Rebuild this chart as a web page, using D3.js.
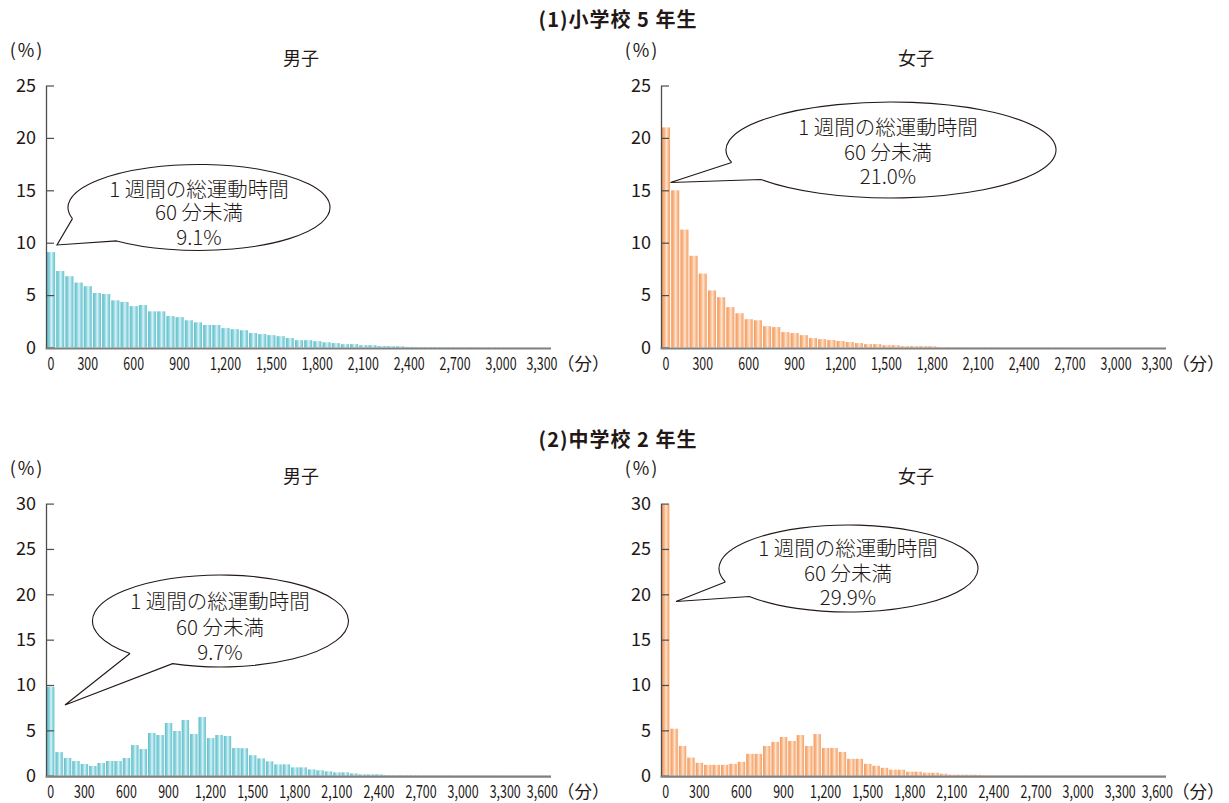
<!DOCTYPE html>
<html>
<head>
<meta charset="utf-8">
<script src="https://cdn.jsdelivr.net/npm/d3@7"></script>
<style>
  body { margin: 0; background: #fff; }
  svg text { font-family: "Noto Sans CJK JP", "Noto Sans", sans-serif; fill: #231815; }
</style>
</head>
<body>
<div id="chart"></div>
<script>
// share of pupils (%) per 60-minute bin of weekly exercise time
const boysG5 = [
  9.1, 7.3, 6.8, 6.2, 5.85, 5.2, 5.1, 4.5, 4.35, 3.95,
  4.05, 3.45, 3.45, 3.0, 2.9, 2.6, 2.4, 2.15, 2.15, 1.85,
  1.75, 1.65, 1.38, 1.28, 1.18, 1.08, 0.9, 0.7, 0.7, 0.6,
  0.5, 0.42, 0.32, 0.32, 0.22, 0.22, 0.14, 0.13, 0.12, 0.06,
  0.05, 0.05, 0.05, 0.04, 0.04, 0.04, 0.04, 0.03, 0.03, 0.03,
  0.03, 0.03, 0.02, 0.02, 0.02
];
const girlsG5 = [
  21.0, 15.0, 11.25, 8.75, 7.05, 5.45, 4.8, 3.85, 3.27, 2.7,
  2.6, 2.03, 1.95, 1.47, 1.38, 1.18, 0.9, 0.8, 0.71, 0.62,
  0.52, 0.42, 0.32, 0.32, 0.22, 0.22, 0.13, 0.13, 0.13, 0.12,
  0.05, 0.05, 0.04, 0.04, 0.04, 0.04, 0.04, 0.03, 0.03, 0.03,
  0.03, 0.03, 0.03, 0.03, 0.02, 0.02, 0.02, 0.02, 0.02, 0.02,
  0.02, 0.02, 0.02, 0.02, 0.02
];
const boysG8 = [
  9.8, 2.6, 1.95, 1.62, 1.29, 1.07, 1.4, 1.62, 1.62, 1.95,
  3.38, 2.94, 4.71, 4.49, 5.81, 4.93, 6.14, 4.6, 6.47, 4.15,
  4.49, 4.38, 3.05, 3.03, 2.26, 1.91, 1.58, 1.25, 1.25, 0.92,
  0.92, 0.7, 0.59, 0.48, 0.37, 0.37, 0.26, 0.15, 0.15, 0.15,
  0.06, 0.05, 0.05, 0.05, 0.04, 0.04, 0.04, 0.04, 0.03, 0.03,
  0.03, 0.03, 0.03, 0.03, 0.02, 0.02, 0.02, 0.02, 0.02, 0.02
];
const girlsG8 = [
  29.9, 5.18, 3.28, 2.0, 1.42, 1.2, 1.2, 1.2, 1.31, 1.53,
  2.41, 2.41, 3.28, 3.72, 4.27, 3.83, 4.48, 3.28, 4.59, 3.06,
  3.06, 2.62, 1.86, 1.86, 1.31, 1.09, 0.87, 0.66, 0.66, 0.44,
  0.44, 0.33, 0.33, 0.22, 0.11, 0.11, 0.11, 0.1, 0.05, 0.04,
  0.04, 0.04, 0.04, 0.04, 0.03, 0.03, 0.03, 0.03, 0.03, 0.03,
  0.02, 0.02, 0.02, 0.02, 0.02, 0.02, 0.02, 0.02, 0.02, 0.02
];

const xTicksTop = [0, 300, 600, 900, 1200, 1500, 1800, 2100, 2400, 2700, 3000, 3300];
const xTicksBottom = [0, 300, 600, 900, 1200, 1500, 1800, 2100, 2400, 2700, 3000, 3300, 3600];
const yTicksTop = [0, 5, 10, 15, 20, 25];
const yTicksBottom = [0, 5, 10, 15, 20, 25, 30];

const sectionTitles = ['(1)小学校 5 年生', '(2)中学校 2 年生'];
const panelTitles = ['男子', '女子'];
const calloutLines = ['1 週間の総運動時間', '60 分未満'];
const under60 = [9.1, 21.0, 9.7, 29.9];

const binMinutes = 60;
const width = 1229, height = 803;

const colors = {
  boys: ['#5fbfcc', '#86d2dc', '#d9f2f5', '#8fd5de', '#66c3cf'],
  girls: ['#f49a5c', '#f8b483', '#fde4d1', '#f9bb8e', '#f5a066']
};

// layout of the four panels
const panels = [
  { data: boysG5, sex: 'boys', x0: 47, x1: 551, yTop: 85.5, yBase: 347.5, yMax: 25, yTicks: yTicksTop, xTicks: xTicksTop,
    callout: { cx: 199, cy: 207.5, rx: 131, ry: 43, tip: [57, 245], a1: 165, a2: 129, tx: 199, ty: [190, 213, 238] } },
  { data: girlsG5, sex: 'girls', x0: 662, x1: 1166, yTop: 85.5, yBase: 347.5, yMax: 25, yTicks: yTicksTop, xTicks: xTicksTop,
    callout: { cx: 891, cy: 150, rx: 165, ry: 48, tip: [670.5, 182.5], a1: 165, a2: 142, tx: 888, ty: [128, 153, 177] } },
  { data: boysG8, sex: 'boys', x0: 47, x1: 551, yTop: 503.6, yBase: 775.7, yMax: 30, yTicks: yTicksBottom, xTicks: xTicksBottom,
    callout: { cx: 220.5, cy: 621, rx: 128, ry: 46, tip: [65, 705], a1: 135, a2: 112, tx: 220, ty: [602, 628, 653] } },
  { data: girlsG8, sex: 'girls', x0: 662, x1: 1166, yTop: 503.6, yBase: 775.7, yMax: 30, yTicks: yTicksBottom, xTicks: xTicksBottom,
    callout: { cx: 848.5, cy: 568.5, rx: 129.5, ry: 43.5, tip: [676, 601.5], a1: 162, a2: 140, tx: 848, ty: [549, 574, 598] } }
];

let $svg = d3.select('#chart').append('svg')
  .attr('width', width)
  .attr('height', height);

let $defs = $svg.append('defs');

Object.keys(colors).forEach(k => {
  let $grad = $defs.append('linearGradient')
    .attr('id', 'grad-' + k)
    .attr('x1', 0).attr('x2', 1).attr('y1', 0).attr('y2', 0);
  [0, 0.3, 0.55, 0.78, 1].forEach((o, i) => {
    $grad.append('stop').attr('offset', o).attr('stop-color', colors[k][i]);
  });
});

// section headings
[20, 440].forEach((y, i) => {
  $svg.append('text')
    .attr('x', 618)
    .attr('y', y)
    .attr('dy', '0.35em')
    .attr('text-anchor', 'middle')
    .style('font-size', '20px')
    .style('font-weight', 'bold')
    .style('letter-spacing', '1px')
    .text(sectionTitles[i]);
});

function bubblePath(c) {
  let rad = Math.PI / 180;
  let p1 = [c.cx + c.rx * Math.cos(c.a1 * rad), c.cy + c.ry * Math.sin(c.a1 * rad)];
  let p2 = [c.cx + c.rx * Math.cos(c.a2 * rad), c.cy + c.ry * Math.sin(c.a2 * rad)];
  return `M${p1} L${c.tip} L${p2} A${c.rx},${c.ry} 0 1 0 ${p1}`;
}

function drawPanel(p, idx) {
  let x = d3.scaleBand()
    .domain(d3.range(p.data.length))
    .range([p.x0, p.x1])
    .paddingInner(0.12)
    .paddingOuter(0);

  let y = d3.scaleLinear()
    .domain([0, p.yMax])
    .range([p.yBase, p.yTop]);

  let $g = $svg.append('g').attr('class', 'panel');

  $g.selectAll('rect.bar')
    .data(p.data)
    .enter()
    .append('rect')
    .attr('class', 'bar')
    .attr('x', (d, i) => x(i))
    .attr('width', x.bandwidth())
    .attr('y', d => y(d))
    .attr('height', d => y(0) - y(d))
    .style('fill', `url(#grad-${p.sex})`);

  // y axis, ticks pointing in
  let $yAxis = $g.append('g')
    .attr('transform', `translate(${p.x0 - 1},0)`)
    .call(d3.axisLeft(y).tickValues(p.yTicks).tickSizeInner(-8).tickSizeOuter(0).tickPadding(10));
  $yAxis.select('.domain').attr('stroke', '#4d4d4d').attr('stroke-width', 1.3);
  $yAxis.selectAll('.tick line').attr('stroke', '#4d4d4d').attr('stroke-width', 1.2);
  $yAxis.selectAll('.tick text')
    .style('font-size', '18px')
    .attr('fill', '#231815')
    .attr('font-family', null);

  // x baseline
  $g.append('line')
    .attr('x1', p.x0 - 1.5)
    .attr('x2', p.x1)
    .attr('y1', p.yBase + 1)
    .attr('y2', p.yBase + 1)
    .attr('stroke', '#808080')
    .attr('stroke-width', 2.2);

  // labels sit on the last bin of each 300-minute step
  let tickIdx = p.xTicks.map(v => v === 0 ? 0 : v / binMinutes - 1);
  let lastTick = tickIdx[tickIdx.length - 1];
  let $xAxis = $g.append('g')
    .attr('transform', `translate(0,${p.yBase})`)
    .call(d3.axisBottom(x)
      .tickValues(tickIdx)
      .tickSize(0)
      .tickPadding(10)
      .tickFormat((d, i) => d3.format(',')(p.xTicks[i])));
  $xAxis.select('.domain').remove();
  $xAxis.selectAll('.tick text')
    .style('font-size', '17.5px')
    .attr('fill', '#231815')
    .attr('font-family', null)
    .attr('transform', d => (d === lastTick ? 'translate(-5,0) ' : '') + 'scale(0.71,1)');

  $g.append('text')
    .attr('x', p.x1 + 6)
    .attr('y', p.yBase + 10)
    .attr('dy', '0.71em')
    .attr('text-anchor', 'start')
    .style('font-size', '17.5px')
    .text('（分）');

  $g.append('text')
    .attr('x', p.x0 - 20)
    .attr('y', p.yTop - 35)
    .attr('dy', '0.35em')
    .attr('text-anchor', 'middle')
    .style('font-size', '18px')
    .style('letter-spacing', '2px')
    .text('(%)');

  $g.append('text')
    .attr('x', (p.x0 + p.x1) / 2 + 2)
    .attr('y', p.yTop - 27)
    .attr('dy', '0.35em')
    .attr('text-anchor', 'middle')
    .style('font-size', '18px')
    .text(panelTitles[idx % 2]);

  // speech bubble
  let c = p.callout;
  $g.append('path')
    .attr('d', bubblePath(c))
    .attr('fill', '#fff')
    .attr('stroke', '#231815')
    .attr('stroke-width', 1.1);

  let lines = calloutLines.concat([d3.format('.1f')(under60[idx]) + '%']);
  $g.append('text')
    .attr('class', 'callout')
    .attr('text-anchor', 'middle')
    .style('font-size', '20.5px')
    .style('font-weight', 300)
    .selectAll('tspan')
    .data(lines)
    .enter()
    .append('tspan')
    .attr('x', c.tx)
    .attr('y', (d, i) => c.ty[i])
    .attr('dy', '0.35em')
    .text(d => d);
}

panels.forEach(drawPanel);
</script>
</body>
</html>
